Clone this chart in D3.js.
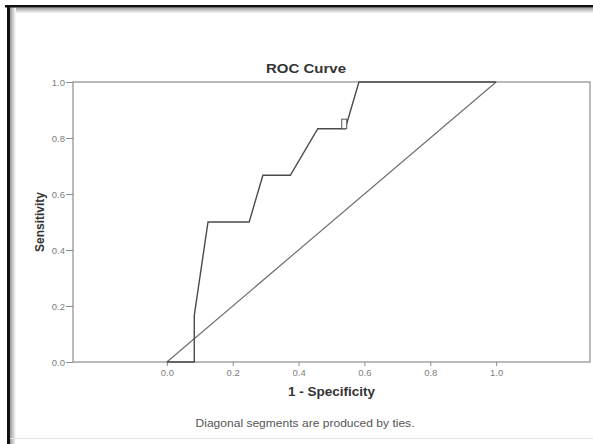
<!DOCTYPE html>
<meta charset="utf-8">
<title>ROC Curve</title>
<style>
  body { margin: 0; background: #fff; }
  text { font-family: "Liberation Sans", Arial, sans-serif; }
  .tick text { fill: #808080; font-size: 9.5px; }
  .tick line { stroke: #8c8c8c; }
</style>
<body>
<script src="https://cdn.jsdelivr.net/npm/d3@7"></script>
<script>

// ROC points (1 - specificity, sensitivity)
var fpr  = [0, 0.0833, 0.0833, 0.125, 0.25, 0.2917, 0.375, 0.4583, 0.5417, 0.5833, 1.0];
var sens = [0, 0,      0.1667, 0.5,   0.5,  0.6667, 0.6667, 0.8333, 0.8333, 1.0,  1.0];
var refLine = [0, 1];
var xTicks = [0, 0.2, 0.4, 0.6, 0.8, 1.0];
var yTicks = [0, 0.2, 0.4, 0.6, 0.8, 1.0];
var tieMark = [0.5417, 0.8333];

var W = 593, H = 444;
var svg = d3.select('body').append('svg').attr('width', W).attr('height', H);

// picture frame: dark border top/left, soft shadow inside
var defs = svg.append('defs');
var gTop = defs.append('linearGradient').attr('id', 'shTop').attr('x1', 0).attr('y1', 0).attr('x2', 0).attr('y2', 1);
gTop.append('stop').attr('offset', 0).attr('stop-color', '#9a9a9a');
gTop.append('stop').attr('offset', 1).attr('stop-color', '#fff');
var gLeft = defs.append('linearGradient').attr('id', 'shLeft').attr('x1', 0).attr('y1', 0).attr('x2', 1).attr('y2', 0);
gLeft.append('stop').attr('offset', 0).attr('stop-color', '#9a9a9a');
gLeft.append('stop').attr('offset', 1).attr('stop-color', '#fff');

svg.append('rect').attr('x', 10).attr('y', 7.5).attr('width', W - 10).attr('height', 6).attr('fill', 'url(#shTop)');
svg.append('rect').attr('x', 10).attr('y', 7.5).attr('width', 6).attr('height', H - 7.5).attr('fill', 'url(#shLeft)');
svg.append('rect').attr('x', 5).attr('y', 5).attr('width', W - 5).attr('height', 2.5).attr('fill', '#111');
svg.append('rect').attr('x', 7).attr('y', 5).attr('width', 3).attr('height', H - 5).attr('fill', '#111');
svg.append('line').attr('x1', 10).attr('x2', W).attr('y1', 438.5).attr('y2', 438.5)
  .attr('stroke', '#e2e2e2');

var x = d3.scaleLinear().domain([-0.285, 1.285]).range([73, 590]);
var y = d3.scaleLinear().domain([0, 1]).range([362, 82]);

// axes
var xAxis = svg.append('g').attr('transform', 'translate(0,' + y(0) + ')')
  .call(d3.axisBottom(x).tickValues(xTicks).tickSize(4).tickPadding(3).tickFormat(d3.format('.1f')));
var yAxis = svg.append('g').attr('transform', 'translate(' + x.range()[0] + ',0)')
  .call(d3.axisLeft(y).tickValues(yTicks).tickSize(7).tickPadding(1).tickFormat(d3.format('.1f')));
xAxis.select('.domain').remove();
yAxis.select('.domain').remove();

// plot frame
svg.append('rect')
  .attr('x', x.range()[0]).attr('y', y(1))
  .attr('width', x.range()[1] - x.range()[0]).attr('height', y(0) - y(1))
  .attr('fill', 'none').attr('stroke', '#8c8c8c').attr('stroke-width', 1.2);

// reference diagonal
svg.append('path')
  .attr('d', d3.line()([[x(refLine[0]), y(refLine[0])], [x(refLine[1]), y(refLine[1])]]))
  .attr('fill', 'none').attr('stroke', '#6e6e6e').attr('stroke-width', 1.2);

// ROC curve
var rocLine = d3.line().x(function(d, i) { return x(fpr[i]); }).y(function(d, i) { return y(sens[i]); });
svg.append('path').datum(fpr)
  .attr('d', rocLine)
  .attr('fill', 'none').attr('stroke', '#4a4a4a').attr('stroke-width', 1.4);

// small tie marker
svg.append('rect')
  .attr('x', x(tieMark[0]) - 3.5).attr('y', y(tieMark[1]) - 9.5)
  .attr('width', 5).attr('height', 9.5)
  .attr('fill', '#fff').attr('stroke', '#555').attr('stroke-width', 1);

// texts
svg.append('text').text('ROC Curve')
  .attr('x', 306).attr('y', 73)
  .attr('text-anchor', 'middle').attr('font-size', '12.5px').attr('font-weight', 'bold')
  .attr('fill', '#333').attr('textLength', 80).attr('lengthAdjust', 'spacingAndGlyphs');

svg.append('text').text('1 - Specificity')
  .attr('x', (x(0) + x(1)) / 2).attr('y', 396)
  .attr('text-anchor', 'middle').attr('font-size', '12px').attr('font-weight', 'bold')
  .attr('fill', '#333').attr('textLength', 87).attr('lengthAdjust', 'spacingAndGlyphs');

svg.append('text').text('Sensitivity')
  .attr('transform', 'translate(44,' + (y(0.5)) + ') rotate(-90)')
  .attr('text-anchor', 'middle').attr('font-size', '12px').attr('font-weight', 'bold')
  .attr('fill', '#333');

svg.append('text').text('Diagonal segments are produced by ties.')
  .attr('x', 305).attr('y', 427)
  .attr('text-anchor', 'middle').attr('font-size', '10.5px')
  .attr('fill', '#555').attr('textLength', 219).attr('lengthAdjust', 'spacingAndGlyphs');

</script>
</body>
